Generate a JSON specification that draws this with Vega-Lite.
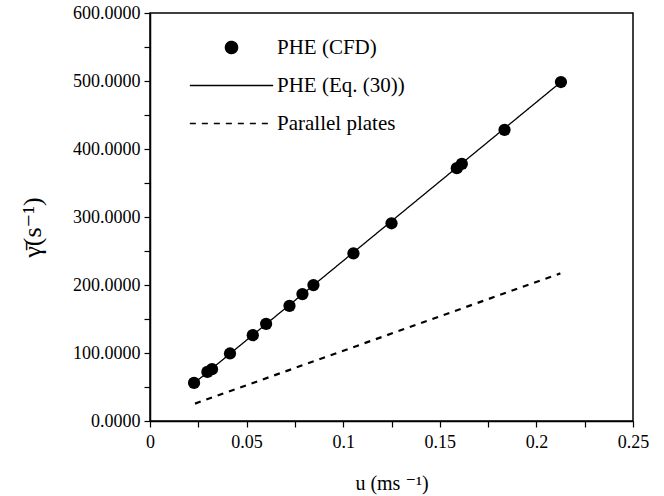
{
  "$schema": "https://vega.github.io/schema/vega-lite/v6.json",
  "width": 483,
  "height": 408,
  "autosize": "none",
  "padding": {"left": 150, "top": 13, "right": 31, "bottom": 75},
  "background": "white",
  "config": {
    "font": "'Liberation Serif', 'Times New Roman', 'DejaVu Serif', serif",
    "view": {"stroke": "black", "strokeWidth": 1.5},
    "axis": {
      "domainColor": "black",
      "domainWidth": 1.5,
      "tickColor": "black",
      "tickWidth": 1.2,
      "tickSize": 6,
      "grid": false,
      "labelColor": "black",
      "labelFont": "'Liberation Serif', 'Times New Roman', 'DejaVu Serif', serif",
      "labelFontSize": 18,
      "titleFont": "'Liberation Serif', 'Times New Roman', 'DejaVu Serif', serif",
      "titleColor": "black",
      "titleFontWeight": "normal"
    },
    "legend": {
      "orient": "none",
      "legendX": 71,
      "legendY": 24,
      "title": null,
      "padding": 0,
      "labelFont": "'Liberation Serif', 'Times New Roman', 'DejaVu Serif', serif",
      "labelFontSize": 21,
      "labelColor": "black",
      "labelOffset": 35,
      "rowPadding": 16,
      "symbolSize": 150,
      "symbolStrokeColor": "black",
      "symbolStrokeWidth": 1.3
    }
  },
  "datasets": {
    "cfd": [
      {"series": "PHE (CFD)", "u": 0.0228, "gamma": 56.0},
      {"series": "PHE (CFD)", "u": 0.0297, "gamma": 72.2},
      {"series": "PHE (CFD)", "u": 0.0321, "gamma": 76.2},
      {"series": "PHE (CFD)", "u": 0.0414, "gamma": 99.3},
      {"series": "PHE (CFD)", "u": 0.0532, "gamma": 126.2},
      {"series": "PHE (CFD)", "u": 0.0601, "gamma": 142.9},
      {"series": "PHE (CFD)", "u": 0.0722, "gamma": 169.4},
      {"series": "PHE (CFD)", "u": 0.0789, "gamma": 186.6},
      {"series": "PHE (CFD)", "u": 0.0846, "gamma": 199.9},
      {"series": "PHE (CFD)", "u": 0.1053, "gamma": 246.6},
      {"series": "PHE (CFD)", "u": 0.125, "gamma": 290.8},
      {"series": "PHE (CFD)", "u": 0.1588, "gamma": 371.8},
      {"series": "PHE (CFD)", "u": 0.1614, "gamma": 378.1},
      {"series": "PHE (CFD)", "u": 0.1835, "gamma": 428.2},
      {"series": "PHE (CFD)", "u": 0.2127, "gamma": 498.5}
    ],
    "eq": [
      {"series": "PHE (Eq. (30))", "u": 0.0228, "gamma": 55.5},
      {"series": "PHE (Eq. (30))", "u": 0.2127, "gamma": 498.5}
    ],
    "pp": [
      {"series": "Parallel plates", "u": 0.0233, "gamma": 25.6},
      {"series": "Parallel plates", "u": 0.2124, "gamma": 217.1}
    ]
  },
  "encoding": {
    "x": {
      "field": "u",
      "type": "quantitative",
      "scale": {"domain": [0, 0.25], "nice": false, "zero": false},
      "axis": {
        "title": "u (ms ⁻¹)",
        "titleFontSize": 20,
        "titleY": 62,
        "titleBaseline": "middle",
        "values": [0, 0.025, 0.05, 0.075, 0.1, 0.125, 0.15, 0.175, 0.2, 0.225, 0.25],
        "labelExpr": "round(datum.value * 1000) % 50 === 0 ? format(datum.value, '~g') : ''",
        "labelPadding": 6,
        "labelFlush": false
      }
    },
    "y": {
      "field": "gamma",
      "type": "quantitative",
      "scale": {"domain": [0, 600], "nice": false, "zero": false},
      "axis": {
        "title": "γ̄(s⁻¹)",
        "titleFontSize": 26,
        "titleAngle": -90,
        "titleX": -118,
        "titleY": 214,
        "titleBaseline": "middle",
        "titleAlign": "center",
        "values": [0, 50, 100, 150, 200, 250, 300, 350, 400, 450, 500, 550, 600],
        "labelExpr": "datum.value % 100 === 0 ? format(datum.value, '.4f') : ''",
        "labelPadding": 4,
        "labelFlush": false
      }
    }
  },
  "layer": [
    {
      "data": {"name": "eq"},
      "mark": {"type": "line", "strokeWidth": 1.3},
      "encoding": {
        "color": {
          "field": "series",
          "type": "nominal",
          "scale": {"domain": ["PHE (CFD)", "PHE (Eq. (30))", "Parallel plates"], "range": ["black", "black", "black"]}
        },
        "strokeDash": {
          "field": "series",
          "type": "nominal",
          "scale": {"domain": ["PHE (CFD)", "PHE (Eq. (30))", "Parallel plates"], "range": [[1, 0], [1, 0], [6, 6]]}
        }
      }
    },
    {
      "data": {"name": "pp"},
      "mark": {"type": "line", "strokeWidth": 2.2},
      "encoding": {
        "color": {"field": "series", "type": "nominal"},
        "strokeDash": {"field": "series", "type": "nominal"}
      }
    },
    {
      "data": {"name": "cfd"},
      "mark": {"type": "point", "filled": true, "size": 150, "opacity": 1},
      "encoding": {
        "color": {"field": "series", "type": "nominal"},
        "shape": {
          "field": "series",
          "type": "nominal",
          "scale": {"domain": ["PHE (CFD)", "PHE (Eq. (30))", "Parallel plates"], "range": ["circle", "M-6.8,0H6.8", "M-6.8,0H6.8"]}
        }
      }
    }
  ]
}
